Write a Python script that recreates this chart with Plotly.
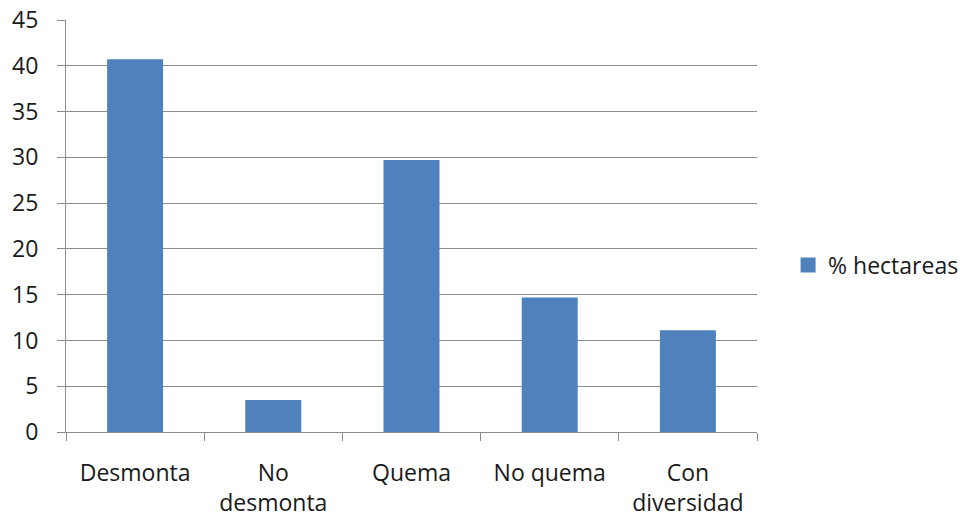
import plotly.graph_objects as go

categories = ["Desmonta", "No<br>desmonta", "Quema", "No quema", "Con<br>diversidad"]
values = [40.7, 3.5, 29.7, 14.7, 11.1]
series_name = "% hectareas"
y_ticks = [0, 5, 10, 15, 20, 25, 30, 35, 40, 45]

FONT = "Open Sans"
FS = 23
TXT = "#1a1a1a"
BAR = "#4F81BD"

fig = go.Figure()
fig.add_trace(go.Bar(
    x=categories, y=values, name=series_name,
    marker=dict(color=BAR, line=dict(width=0)),
    showlegend=False,
))
# legend entry with a larger square swatch
fig.add_trace(go.Scatter(
    x=[None], y=[None], mode="markers", name=series_name,
    marker=dict(symbol="square", size=15, color=BAR),
    showlegend=True,
))

fig.update_layout(
    width=960, height=523,
    margin=dict(l=66, r=203, t=20, b=91, autoexpand=False),
    paper_bgcolor="white", plot_bgcolor="white",
    bargap=0.595,
    font=dict(family=FONT, size=FS, color=TXT),
    showlegend=True,
    legend=dict(x=1.045, y=0.405, xanchor="left", yanchor="middle",
                font=dict(family=FONT, size=FS, color=TXT),
                itemwidth=30, bgcolor="rgba(0,0,0,0)"),
)
fig.update_yaxes(
    range=[0, 45], tickvals=y_ticks, automargin=False,
    showgrid=True, gridcolor="#8c8c8c", gridwidth=1,
    showline=True, linecolor="#8c8c8c", linewidth=1,
    ticks="outside", ticklen=8, tickcolor="#8c8c8c",
    ticklabelstandoff=14,
    zeroline=False, tickfont=dict(family=FONT, size=FS, color=TXT),
)
fig.update_xaxes(
    automargin=False,
    showline=True, linecolor="#8c8c8c", linewidth=1,
    ticks="outside", ticklen=8, tickcolor="#8c8c8c",
    tickson="boundaries", showgrid=False,
    ticklabelstandoff=20,
    tickfont=dict(family=FONT, size=FS, color=TXT),
)

fig.write_html("out.html")
